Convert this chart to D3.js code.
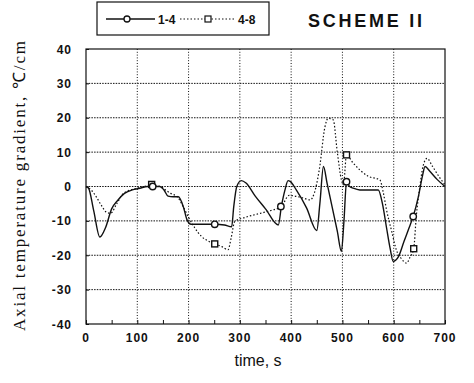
<html lang="en">
<head>
    <meta charset="utf-8">
    <title>Scheme II</title>
    <script type="text/javascript" src="https://cdn.jsdelivr.net/npm/d3@7"></script>
    <style>
        body { margin: 0; background: #fff; }
    </style>
</head>
<body>
<script type="text/javascript">
    // series 1-4 (solid)
    var timeA = [0, 5, 15, 27, 38, 50, 62, 75, 90, 105, 120, 144, 152, 160, 170, 180, 190, 197, 205, 215, 230, 251, 270, 284, 288, 294, 303, 312, 330, 350, 375, 381, 388, 394, 398, 410, 430, 450, 456, 463, 470, 480, 490, 498, 503, 508, 514, 521, 534, 550, 570, 578, 586, 593, 599, 609, 620, 630, 638, 648, 656, 661, 670, 685, 700];
    var valA = [0, -0.5, -7, -14.7, -12, -6.5, -4, -2, -1, -0.5, 0, 0, -1, -2.8, -3, -3, -6, -9.7, -11, -11, -11, -11, -11.2, -11.7, -6, 0, 1.7, 1, -2.8, -6.5, -11.2, -5.8, -1, 1.7, 1.5, -1, -6.2, -12.8, -5, 5.8, 1, -6, -13, -18.9, -10, 1.4, 0, -0.5, -1, -1, -1, -5, -12, -18, -21.8, -20.5, -16, -12, -8.7, -3, 3, 5.8, 4.5, 2, 0];
    // series 4-8 (dotted)
    var timeB = [0, 10, 20, 30, 40, 48, 60, 73, 100, 128, 145, 155, 165, 178, 190, 200, 212, 225, 240, 251, 265, 277, 283, 290, 310, 340, 360, 381, 396, 420, 437, 445, 455, 466, 472, 482, 490, 498, 502, 508, 520, 534, 550, 573, 580, 586, 596, 605, 615, 625, 632, 639, 644, 651, 657, 665, 675, 690, 700];
    var valB = [0, -1, -3, -5.5, -7.5, -7.8, -5, -2, -0.5, 0.3, 0, -1, -2, -3, -6, -9, -12, -14.5, -16, -16.7, -17.5, -18.4, -15, -10.2, -9, -7.8, -7, -5.8, -2.6, -3.2, -3.9, -2, 5, 17.4, 19.8, 19.4, 10, 2, 0.5, 9.2, 7, 4.8, 3, 1.9, -2, -6.8, -13, -18.4, -21, -22.3, -20.5, -18.1, -8.7, 0, 5.8, 8.2, 6, 2.5, 0.5];
    // marker positions
    var markA = [[130, 0], [251, -11], [380, -5.8], [508, 1.4], [638, -8.7]];
    var markB = [[128, 0.6], [251, -16.7], [508, 9.2], [639, -18.1]];

    var xTicks = [0, 100, 200, 300, 400, 500, 600, 700];
    var yTicks = [-40, -30, -20, -10, 0, 10, 20, 30, 40];

    var width = 474, height = 383;
    var plotL = 86, plotR = 445, plotT = 49, plotB = 324;

    var svg = d3.select("body").append("svg").attr("width", width).attr("height", height);

    var x = d3.scaleLinear().domain([0, 700]).range([plotL, plotR]);
    var y = d3.scaleLinear().domain([-40, 40]).range([plotB, plotT]);

    // dotted grid
    svg.append("g").selectAll("line").data(xTicks.slice(1, -1)).enter().append("line")
        .attr("x1", function (d) { return x(d) }).attr("x2", function (d) { return x(d) })
        .attr("y1", plotT).attr("y2", plotB)
        .attr("stroke", "#111").attr("stroke-width", 1).attr("stroke-dasharray", "1,1.8");
    svg.append("g").selectAll("line").data(yTicks.slice(1, -1)).enter().append("line")
        .attr("x1", plotL).attr("x2", plotR)
        .attr("y1", function (d) { return y(d) }).attr("y2", function (d) { return y(d) })
        .attr("stroke", "#111").attr("stroke-width", 1).attr("stroke-dasharray", "1.5,1.2");

    // axes with inward ticks
    var xAxis = d3.axisBottom(x).tickValues(d3.range(0, 701, 50)).tickSize(-4).tickFormat("");
    var yAxis = d3.axisLeft(y).tickValues(yTicks).tickSize(-3).tickFormat("");
    svg.append("g").attr("transform", "translate(0," + plotB + ")").call(xAxis);
    svg.append("g").attr("transform", "translate(" + plotL + ",0)").call(yAxis);
    svg.selectAll(".domain").remove();
    svg.selectAll(".tick line").attr("stroke", "#111");

    svg.append("rect").attr("x", plotL).attr("y", plotT).attr("width", plotR - plotL).attr("height", plotB - plotT)
        .attr("fill", "none").attr("stroke", "#111").attr("stroke-width", 1.2);

    // tick labels
    svg.append("g").selectAll("text").data(xTicks).enter().append("text")
        .text(function (d) { return d })
        .attr("x", function (d) { return x(d) }).attr("y", 342)
        .attr("text-anchor", "middle").attr("font-family", "Liberation Sans, Arial, sans-serif")
        .attr("font-size", "12px").attr("font-weight", "bold").attr("letter-spacing", "1px").attr("fill", "#111");
    svg.append("g").selectAll("text").data(yTicks).enter().append("text")
        .text(function (d) { return d })
        .attr("x", 72).attr("y", function (d) { return y(d) + 4.5 })
        .attr("text-anchor", "end").attr("font-family", "Liberation Sans, Arial, sans-serif")
        .attr("font-size", "12px").attr("font-weight", "bold").attr("letter-spacing", "1px").attr("fill", "#111");

    // axis titles
    svg.append("text").text("time, s").attr("x", 258).attr("y", 366)
        .attr("text-anchor", "middle").attr("font-family", "Liberation Sans, Arial, sans-serif")
        .attr("font-size", "16px").attr("fill", "#111");
    svg.append("text").text("Axial temperature gradient, \u2103/cm")
        .attr("transform", "translate(25,186) rotate(-90)")
        .attr("text-anchor", "middle").attr("font-family", "Liberation Serif, Times New Roman, serif")
        .attr("font-size", "17px").attr("textLength", 290).attr("lengthAdjust", "spacing").attr("fill", "#111");

    // lines
    var seriesA = timeA.map(function (t, i) { return [t, valA[i]] });
    var seriesB = timeB.map(function (t, i) { return [t, valB[i]] });
    var line = d3.line().x(function (d) { return x(d[0]) }).y(function (d) { return y(d[1]) }).curve(d3.curveMonotoneX);

    svg.append("path").attr("d", line(seriesB)).attr("fill", "none")
        .attr("stroke", "#111").attr("stroke-width", 1.2).attr("stroke-dasharray", "1.5,2");
    svg.append("path").attr("d", line(seriesA)).attr("fill", "none")
        .attr("stroke", "#111").attr("stroke-width", 1.4);

    svg.append("g").selectAll("rect").data(markB).enter().append("rect")
        .attr("x", function (d) { return x(d[0]) - 3 }).attr("y", function (d) { return y(d[1]) - 3 })
        .attr("width", 6).attr("height", 6).attr("fill", "#fff").attr("stroke", "#111").attr("stroke-width", 1.4);
    svg.append("g").selectAll("circle").data(markA).enter().append("circle")
        .attr("cx", function (d) { return x(d[0]) }).attr("cy", function (d) { return y(d[1]) })
        .attr("r", 3.2).attr("fill", "#fff").attr("stroke", "#111").attr("stroke-width", 1.4);

    // legend
    var lg = svg.append("g");
    lg.append("rect").attr("x", 97).attr("y", 2).attr("width", 172).attr("height", 33)
        .attr("fill", "#fff").attr("stroke", "#111").attr("stroke-width", 1.2);
    lg.append("line").attr("x1", 106).attr("x2", 155).attr("y1", 19).attr("y2", 19)
        .attr("stroke", "#111").attr("stroke-width", 1.4);
    lg.append("circle").attr("cx", 127).attr("cy", 19).attr("r", 3)
        .attr("fill", "#fff").attr("stroke", "#111").attr("stroke-width", 1.3);
    lg.append("text").text("1-4").attr("x", 158).attr("y", 23.5)
        .attr("font-family", "Liberation Sans, Arial, sans-serif").attr("font-size", "12px").attr("font-weight", "bold").attr("fill", "#111");
    lg.append("line").attr("x1", 180).attr("x2", 235).attr("y1", 19).attr("y2", 19)
        .attr("stroke", "#111").attr("stroke-width", 1.1).attr("stroke-dasharray", "1.5,2");
    lg.append("rect").attr("x", 205).attr("y", 16).attr("width", 6).attr("height", 6)
        .attr("fill", "#fff").attr("stroke", "#111").attr("stroke-width", 1.2);
    lg.append("text").text("4-8").attr("x", 238).attr("y", 23.5)
        .attr("font-family", "Liberation Sans, Arial, sans-serif").attr("font-size", "12px").attr("font-weight", "bold").attr("fill", "#111");

    svg.append("text").text("SCHEME  II").attr("x", 308).attr("y", 27)
        .attr("font-family", "Liberation Sans, Arial, sans-serif").attr("font-size", "18px").attr("font-weight", "bold")
        .attr("textLength", 114).attr("lengthAdjust", "spacing").attr("fill", "#111");
</script>
</body>
</html>
